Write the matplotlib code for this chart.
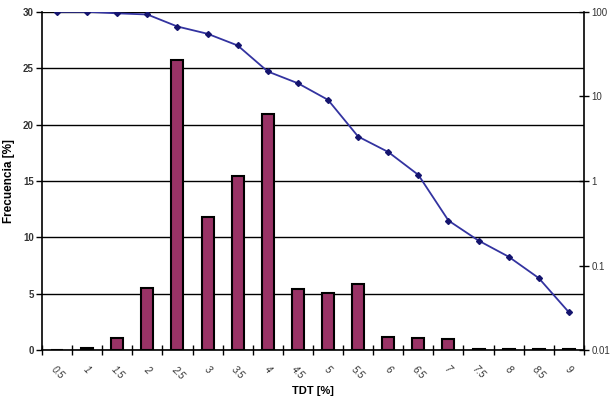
import matplotlib
matplotlib.use('Agg')
import matplotlib.pyplot as plt
from matplotlib.ticker import FixedLocator, NullLocator
import numpy as np

# --- data ---
tdt_labels = ['0.5', '1', '1.5', '2', '2.5', '3', '3.5', '4', '4.5',
              '5', '5.5', '6', '6.5', '7', '7.5', '8', '8.5', '9']
frecuencia = [0.0, 0.2, 1.1, 5.5, 25.7, 11.8, 15.4, 20.9, 5.4,
              5.1, 5.9, 1.2, 1.1, 0.95, 0.1, 0.1, 0.1, 0.1]
acumulada = [100, 100, 96, 93, 67, 55, 40, 19.7, 14.3,
             9.1, 3.35, 2.2, 1.18, 0.34, 0.197, 0.127, 0.071, 0.028]
right_ticks = [0.01, 0.1, 1, 10, 100]
right_labels = ['0.01', '0.1', '1', '10', '100']

plt.rcParams['font.family'] = ['Liberation Sans', 'DejaVu Sans']

fig = plt.figure(figsize=(6.11, 4.08), dpi=100, facecolor='white')
ax = fig.add_axes([0.0687, 0.142, 0.887, 0.829])

x = np.arange(len(tdt_labels))
ax.bar(x, frecuencia, width=0.4, color='#993366', edgecolor='black', linewidth=1.5, zorder=3)

ax.set_xlim(-0.5, len(tdt_labels) - 0.5)
ax.set_ylim(0, 30)
ax.set_yticks([0, 5, 10, 15, 20, 25, 30])
ax.yaxis.grid(True, color='black', linewidth=1.0, zorder=0)
ax.set_axisbelow(True)
ax.tick_params(axis='y', labelsize=7, direction='out', length=4, width=1, pad=2)
for lbl in ax.get_yticklabels():
    lbl.set_fontweight('bold')
    lbl.set_color('#333')

# tick marks at category boundaries, labels at centres
ax.xaxis.set_major_locator(FixedLocator(np.arange(-0.5, len(tdt_labels), 1.0)))
ax.xaxis.set_major_formatter(plt.NullFormatter())
ax.xaxis.set_minor_locator(FixedLocator(x))
ax.set_xticklabels(tdt_labels, minor=True, rotation=-45, fontsize=7, style='italic', color='#333')
ax.tick_params(axis='x', which='major', direction='inout', length=7, width=1)
ax.tick_params(axis='x', which='minor', length=0, pad=10)
for lbl in ax.get_xticklabels(minor=True):
    lbl.set_ha('center')

for side in ['top', 'right']:
    ax.spines[side].set_visible(False)
ax.spines['left'].set_linewidth(1.2)
ax.spines['bottom'].set_linewidth(1.2)

ax.set_ylabel('Frecuencia [%]', fontsize=8.5, fontweight='bold', labelpad=6)
ax.yaxis.set_label_coords(-0.05, 0.5)
ax.set_xlabel('TDT [%]', fontsize=8, fontweight='bold', labelpad=4)

# --- right log axis ---
ax2 = ax.twinx()
ax2.plot(x, acumulada, color='#3333a0', linewidth=1.3, marker='D', markersize=3,
         markerfacecolor='#14146e', markeredgecolor='#14146e', zorder=4)
ax2.set_yscale('log')
ax2.set_ylim(0.01, 100)
ax2.yaxis.set_major_locator(FixedLocator(right_ticks))
ax2.yaxis.set_minor_locator(NullLocator())
ax2.set_yticklabels(right_labels)
ax2.tick_params(axis='y', labelsize=7, direction='inout', length=7, width=1, pad=2)
for lbl in ax2.get_yticklabels():
    lbl.set_color('#333')
for side in ['top', 'left', 'bottom']:
    ax2.spines[side].set_visible(False)
ax2.spines['right'].set_linewidth(1.2)

fig.savefig('out.png', dpi=100, facecolor='white')
